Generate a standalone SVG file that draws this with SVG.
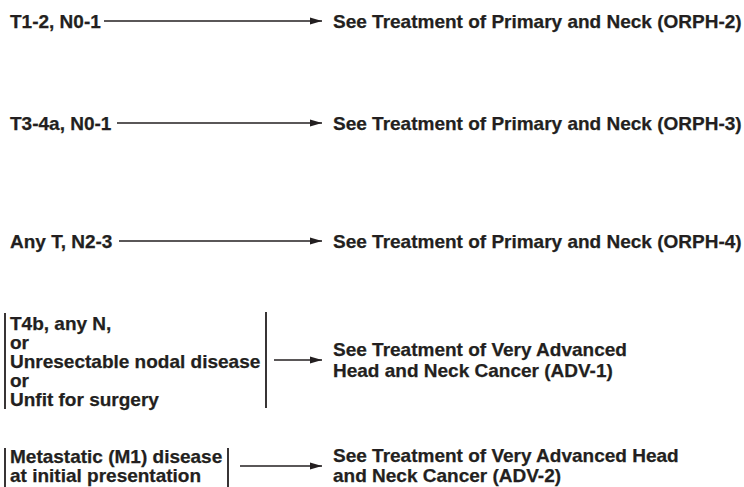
<svg xmlns="http://www.w3.org/2000/svg" width="744" height="487" viewBox="0 0 744 487">
<defs>
<style>
text{font-family:"Liberation Sans",Arial,Helvetica,sans-serif;font-weight:bold;font-size:19px;fill:#231f20;stroke:#231f20;stroke-width:0.25}
.c{stroke:#231f20;stroke-width:1.6;fill:none}
.b{stroke:#231f20;stroke-width:1.8;fill:none}
</style>
<marker id="ah" markerWidth="12" markerHeight="8" refX="12" refY="4" orient="auto" markerUnits="userSpaceOnUse">
<path d="M0,0.5 L12,4 L0,7.5 Z" fill="#231f20"/>
</marker>
</defs>
<rect width="744" height="487" fill="#ffffff"/>
<g id="n1"><text x="10" y="28">T1-2, N0-1</text></g>
<g id="r1"><text x="333" y="28">See Treatment of Primary and Neck (ORPH-2)</text></g>
<g id="n2"><text x="10" y="130">T3-4a, N0-1</text></g>
<g id="r2"><text x="333" y="130">See Treatment of Primary and Neck (ORPH-3)</text></g>
<g id="n3"><text x="10" y="248">Any T, N2-3</text></g>
<g id="r3"><text x="333" y="248">See Treatment of Primary and Neck (ORPH-4)</text></g>
<g id="n4">
<line class="b" x1="5" y1="313" x2="5" y2="409"/>
<line class="b" x1="266" y1="312" x2="266" y2="408"/>
<text x="10" y="330">T4b, any N,</text>
<text x="10" y="349">or</text>
<text x="10" y="368">Unresectable nodal disease</text>
<text x="10" y="387">or</text>
<text x="10" y="406">Unfit for surgery</text>
</g>
<g id="r4"><text x="333" y="356">See Treatment of Very Advanced</text><text x="333" y="377">Head and Neck Cancer (ADV-1)</text></g>
<g id="n5">
<line class="b" x1="5" y1="448" x2="5" y2="487"/>
<line class="b" x1="228" y1="448" x2="228" y2="487"/>
<text x="10" y="463">Metastatic (M1) disease</text>
<text x="10" y="482">at initial presentation</text>
</g>
<g id="r5"><text x="333" y="462">See Treatment of Very Advanced Head</text><text x="333" y="482">and Neck Cancer (ADV-2)</text></g>
<g id="connectors">
<line class="c" x1="104" y1="21" x2="322" y2="21" marker-end="url(#ah)"/>
<line class="c" x1="117" y1="123" x2="322" y2="123" marker-end="url(#ah)"/>
<line class="c" x1="119" y1="241" x2="322" y2="241" marker-end="url(#ah)"/>
<line class="c" x1="274" y1="360" x2="322" y2="360" marker-end="url(#ah)"/>
<line class="c" x1="240" y1="466" x2="322" y2="466" marker-end="url(#ah)"/>
</g>
</svg>
